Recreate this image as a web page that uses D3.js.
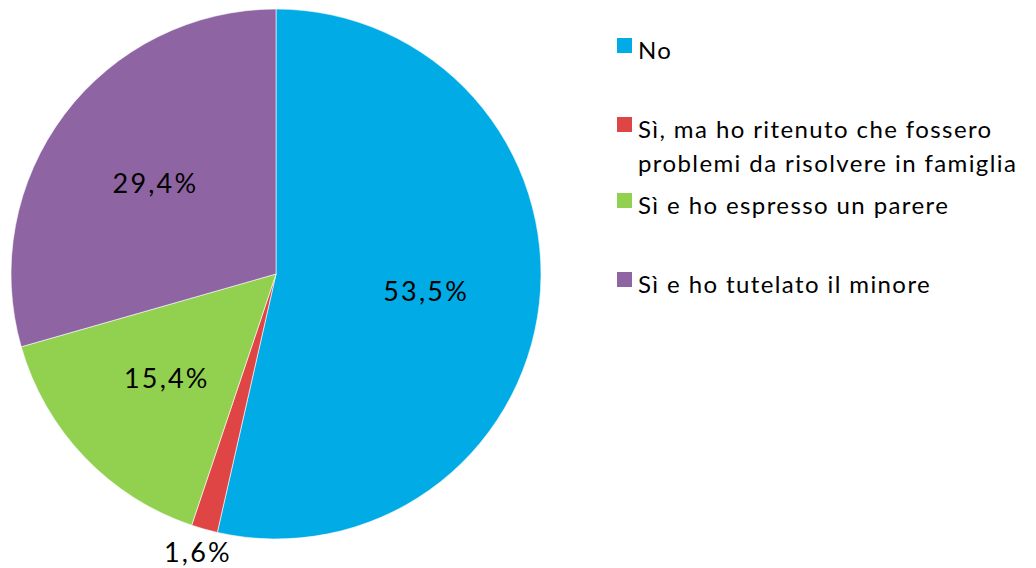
<!DOCTYPE html>
<html>
<head>
<meta charset="utf-8">
<script src="https://cdn.jsdelivr.net/npm/d3@7"></script>
<style>
  html, body { margin: 0; padding: 0; background: #fff; }
  svg { display: block; }
  text { font-family: "Lato", "DejaVu Sans", sans-serif; fill: #000; }
</style>
</head>
<body>
<svg id="chart" width="1036" height="568"></svg>
<script>
// Responses and their shares (%)
const categories = [
  "No",
  "Sì, ma ho ritenuto che fossero problemi da risolvere in famiglia",
  "Sì e ho espresso un parere",
  "Sì e ho tutelato il minore"
];
const legendLines = [
  ["No"],
  ["Sì, ma ho ritenuto che fossero", "problemi da risolvere in famiglia"],
  ["Sì e ho espresso un parere"],
  ["Sì e ho tutelato il minore"]
];
const values = [53.5, 1.6, 15.4, 29.4];
const valueLabels = ["53,5%", "1,6%", "15,4%", "29,4%"];
const colors = ["#00ABE6", "#E04545", "#92D050", "#8F64A3"];

const svg = d3.select("#chart");
const cx = 276, cy = 274, R = 265;

const color = d3.scaleOrdinal().domain(categories).range(colors);

const pie = d3.pie().sort(null).value(d => d.value);
const data = categories.map((c, i) => ({ cat: c, value: values[i], label: valueLabels[i] }));
const arcs = pie(data);

const arc = d3.arc().innerRadius(0).outerRadius(R);
const g = svg.append("g").attr("transform", `translate(${cx},${cy})`);

g.selectAll("path.slice")
  .data(arcs)
  .enter().append("path")
  .attr("class", "slice")
  .attr("d", arc)
  .attr("fill", d => color(d.data.cat))
  .attr("stroke", "#fff")
  .attr("stroke-width", 0.6);

// Labels: inside for large slices, just outside the rim for thin ones
const inner = d3.arc().innerRadius(R * 0.57).outerRadius(R * 0.57);
const outer = d3.arc().innerRadius(R + 24).outerRadius(R + 24);

g.selectAll("text.val")
  .data(arcs)
  .enter().append("text")
  .attr("class", "val")
  .attr("transform", d => {
    const small = (d.endAngle - d.startAngle) < 0.2;
    const p = (small ? outer : inner).centroid(d);
    return `translate(${p[0]},${p[1]})`;
  })
  .attr("text-anchor", "middle")
  .attr("dy", "0.36em")
  .style("font-size", "27px")
  .style("letter-spacing", "2.2px")
  .text(d => d.data.label);

// Legend
const legendY = [38, 117, 193, 272];
const legend = svg.append("g").attr("transform", "translate(617,0)");
legendLines.forEach((lines, i) => {
  const row = legend.append("g").attr("transform", `translate(0,${legendY[i]})`);
  row.append("rect")
    .attr("width", 15).attr("height", 15)
    .attr("fill", colors[i]);
  lines.forEach((ln, j) => {
    row.append("text")
      .attr("x", 21)
      .attr("y", 21 + j * 34)
      .style("font-size", "24px")
      .style("letter-spacing", "1.4px")
      .text(ln);
  });
});
</script>
</body>
</html>
